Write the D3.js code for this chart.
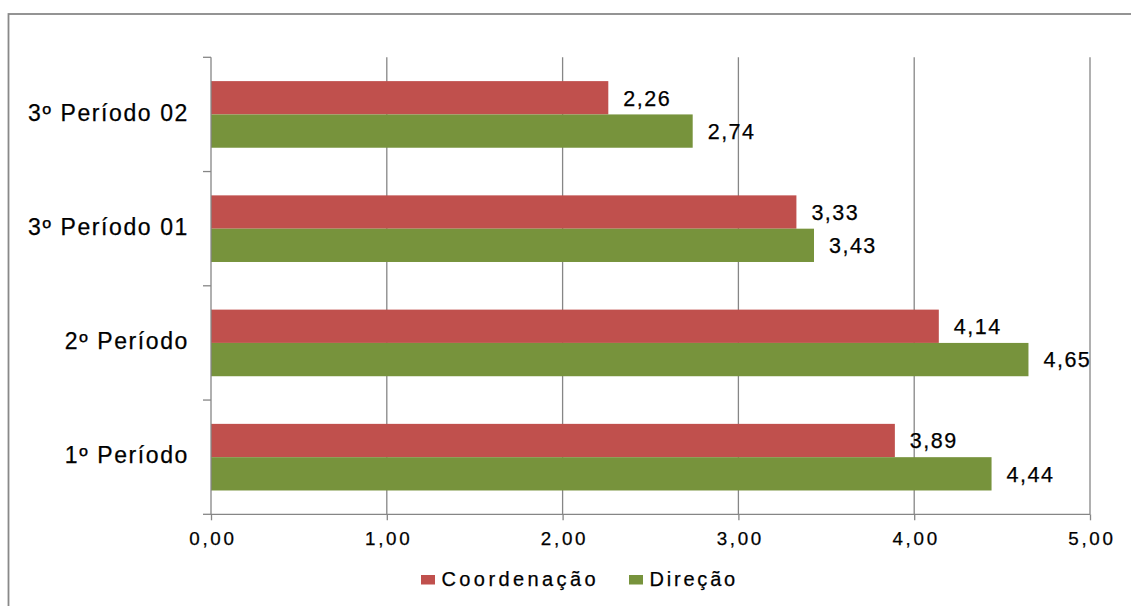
<!DOCTYPE html>
<html>
<head>
<meta charset="utf-8">
<script src="https://cdn.jsdelivr.net/npm/d3@7"></script>
<style>
  html, body { margin: 0; padding: 0; background: #fff; }
  svg { display: block; font-family: "Liberation Sans", Arial, sans-serif; }
  svg text { stroke: #000; stroke-width: 0.25px; }
</style>
</head>
<body>
<svg id="chart" width="1131" height="606"></svg>
<script>
const categories = ["3º Período 02", "3º Período 01", "2º Período", "1º Período"];
const seriesNames = ["Coordenação", "Direção"];
const coordenacao = [2.26, 3.33, 4.14, 3.89];
const direcao = [2.74, 3.43, 4.65, 4.44];
const xTicks = [0, 1, 2, 3, 4, 5];
const colors = ["#C0504D", "#77933C"];

const svg = d3.select("#chart");
const W = 1131, H = 606;
const plot = { left: 211, right: 1090, top: 57.3, bottom: 514.3 };
const gridColor = "#868686";

// outer frame
svg.append("rect")
  .attr("x", 8.5).attr("y", 14)
  .attr("width", W + 10).attr("height", H + 10)
  .attr("fill", "none").attr("stroke", "#898989").attr("stroke-width", 1.8);

const x = d3.scaleLinear().domain([0, 5]).range([plot.left, plot.right]);
const y = d3.scaleBand().domain(categories).range([plot.top, plot.bottom]).padding(0);
const ySub = d3.scaleBand().domain(seriesNames).range([0, y.bandwidth()])
  .paddingInner(0).paddingOuter(0.715);

// vertical gridlines
svg.append("g").selectAll("line").data(xTicks.filter(d => d > 0)).join("line")
  .attr("x1", d => x(d)).attr("x2", d => x(d))
  .attr("y1", plot.top).attr("y2", plot.bottom)
  .attr("stroke", gridColor).attr("stroke-width", 1.3);

const rows = categories.map((c, i) => ({ cat: c, vals: [coordenacao[i], direcao[i]] }));

// bars
const g = svg.append("g");
rows.forEach(r => {
  r.vals.forEach((v, j) => {
    g.append("rect")
      .attr("x", x(0))
      .attr("y", y(r.cat) + ySub(seriesNames[j]))
      .attr("width", x(v) - x(0))
      .attr("height", ySub.bandwidth())
      .attr("fill", colors[j]);
    g.append("text")
      .attr("x", x(v) + 15)
      .attr("y", y(r.cat) + ySub(seriesNames[j]) + ySub.bandwidth() / 2 + 7.8)
      .attr("font-size", 21.5)
      .attr("letter-spacing", "1.5px")
      .attr("fill", "#000")
      .text(d3.format(".2f")(v).replace(".", ","));
  });
});

// x axis
const xAxis = d3.axisBottom(x).tickValues(xTicks).tickSize(6).tickPadding(9)
  .tickFormat(d => d3.format(".2f")(d).replace(".", ","));
const gx = svg.append("g").attr("transform", `translate(0,${plot.bottom})`).call(xAxis);
gx.select(".domain").attr("stroke", gridColor).attr("stroke-width", 1.3)
  .attr("d", `M${plot.left},0H${plot.right}`);
gx.selectAll(".tick line").attr("stroke", gridColor).attr("stroke-width", 1.3);
gx.selectAll(".tick text")
  .attr("font-size", 18.8).attr("letter-spacing", "2.7px").attr("dx", "1.4px")
  .attr("fill", "#000").attr("font-family", "Liberation Sans, Arial, sans-serif")
  .attr("y", 17).attr("dy", "0.71em");

// y axis
const yAxis = d3.axisLeft(y).tickValues([]).tickSize(0);
const gy = svg.append("g").attr("transform", `translate(${plot.left},0)`).call(yAxis);
gy.select(".domain").attr("stroke", gridColor).attr("stroke-width", 1.3)
  .attr("d", `M0,${plot.top}V${plot.bottom}`);
// band boundary ticks
const boundaries = categories.map(c => y(c)).concat([plot.bottom]);
svg.append("g").selectAll("line").data(boundaries).join("line")
  .attr("x1", plot.left - 8).attr("x2", plot.left)
  .attr("y1", d => d).attr("y2", d => d)
  .attr("stroke", gridColor).attr("stroke-width", 1.3);
// category labels
svg.append("g").selectAll("text").data(categories).join("text")
  .attr("x", 189)
  .attr("y", d => y(d) + y.bandwidth() / 2 + 6.3)
  .attr("text-anchor", "end")
  .attr("font-size", 23)
  .attr("letter-spacing", "1.6px")
  .attr("fill", "#000")
  .text(d => d);

// legend
const legendX = [421, 629];
const lg = svg.append("g");
seriesNames.forEach((s, i) => {
  lg.append("rect").attr("x", legendX[i]).attr("y", 575)
    .attr("width", 14).attr("height", 9.5).attr("fill", colors[i]);
  lg.append("text").attr("x", legendX[i] + 20.5).attr("y", 586)
    .attr("font-size", 20).attr("letter-spacing", i === 0 ? "3.4px" : "2.8px")
    .attr("fill", "#000").text(s);
});
</script>
</body>
</html>
